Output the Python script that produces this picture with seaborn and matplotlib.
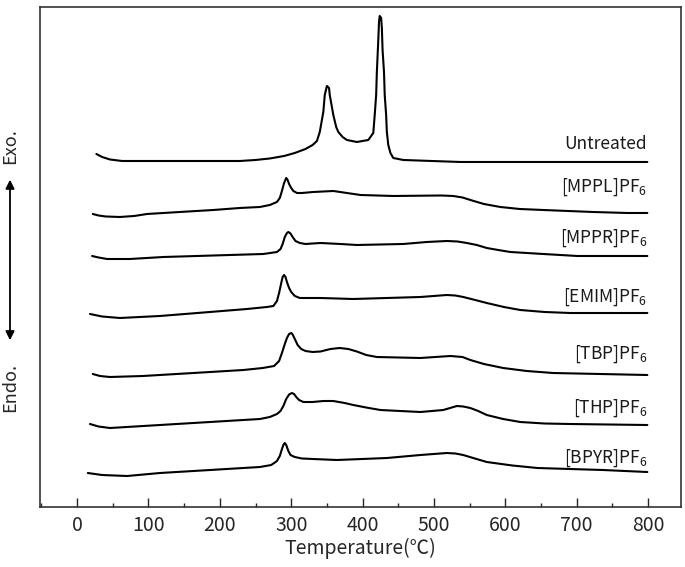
import matplotlib
matplotlib.use('Agg')
import matplotlib.pyplot as plt
import seaborn as sns
import pandas as pd
from matplotlib.ticker import MultipleLocator

# DSC curves (temperature in degC, stacked signal in arbitrary units)
untreated_t = [27, 35, 46, 63, 228, 250, 270, 290, 305, 320, 330, 336, 340, 345, 347, 350, 353, 354, 359,
               363, 366, 372, 378, 392, 408, 415, 417, 419, 420, 422, 423, 424, 426, 427, 428, 430, 431,
               433, 434, 436, 439, 443, 457, 537, 799]
untreated_y = [353, 350, 347.5, 346, 346, 347, 348.5, 351, 354, 358, 362, 366, 375, 395, 412, 421, 419, 412,
               392, 380, 375, 370, 367, 365, 367, 374, 392, 412, 435, 467, 485, 491, 489, 479, 457, 435,
               412, 392, 375, 362, 354, 349, 347, 345, 345]

mppl_t = [22, 30, 40, 60, 80, 98, 144, 191, 228, 256, 270, 280, 284, 287, 290, 293, 295, 297, 300, 303,
          308, 315, 331, 359, 378, 397, 443, 510, 527, 540, 551, 570, 593, 620, 653, 723, 771, 799]
mppl_y = [293, 291.5, 290.5, 290, 291, 293, 295, 297, 299, 300, 302, 305, 309, 316, 324, 329, 327, 323,
          319, 316, 314, 314, 315, 316, 314, 312, 311, 311.5, 311, 309.5, 307, 303, 300, 298, 297, 295,
          294, 294]

mppr_t = [21, 30, 42, 74, 121, 168, 214, 261, 280, 285, 288, 291, 294, 296, 299, 302, 306, 312, 320,
          341, 369, 392, 457, 490, 518, 533, 546, 560, 574, 590, 607, 630, 653, 701, 799]
mppr_y = [251, 249.5, 248, 248, 250, 251, 252, 253, 255, 258, 263, 270, 274, 275, 273.5, 270, 266, 264,
          263, 264, 263, 262, 263, 265, 266, 265.5, 264, 262, 259, 257, 255, 254, 253, 251, 251]

emim_t = [18, 35, 60, 116, 186, 238, 266, 275, 280, 283, 286, 288, 290, 292, 294, 297, 300, 305, 312,
          341, 387, 434, 481, 518, 530, 541, 555, 574, 598, 621, 655, 691, 799]
emim_y = [193, 190.5, 189, 191, 195, 198, 200, 201, 206, 214, 224, 230, 232, 230, 225, 219, 215, 211, 209,
          209, 208, 209, 210, 212, 211.5, 210, 207.5, 204, 200, 197, 195, 194, 194]

tbp_t = [22, 32, 46, 92, 163, 233, 260, 276, 283, 287, 291, 294, 297, 300, 302, 305, 309, 314, 320,
         330, 341, 355, 368, 380, 392, 405, 420, 481, 523, 540, 551, 570, 597, 630, 667, 799]
tbp_y = [133, 131, 130, 131, 134, 137, 139, 141, 146, 154, 163, 169, 173, 174, 172.5, 168, 162, 158, 156,
         155, 155.5, 158, 159, 158, 155.5, 152, 150, 149, 151, 150, 147, 143, 139, 136, 134, 132]

thp_t = [18, 30, 46, 116, 186, 256, 270, 280, 285, 289, 293, 297, 301, 304, 307, 311, 317, 330, 345,
         359, 375, 387, 405, 425, 481, 513, 525, 532, 541, 551, 562, 574, 597, 621, 655, 691, 799]
thp_y = [83, 80.5, 79, 82, 85, 88, 90, 93, 96, 101, 108, 112.5, 114, 113, 110, 107, 105, 105, 106,
         106, 104, 102, 99.5, 97, 95, 97, 99.5, 101, 100.5, 99, 96, 92, 88, 85, 83.5, 83, 82]

bpyr_t = [15, 35, 70, 116, 186, 256, 272, 280, 284, 287, 289, 291, 293, 296, 299, 305, 315, 331, 364,
          434, 481, 518, 530, 541, 555, 574, 610, 645, 737, 799]
bpyr_y = [34, 32, 31, 34, 37, 40, 42, 46, 51, 58, 62, 64, 62, 56, 52, 50, 48.5, 48, 47,
          49, 52, 54, 53.5, 52, 49, 45, 41.5, 39, 37, 35]

samples = ['Untreated', r'[MPPL]PF$_{\mathrm{6}}$', r'[MPPR]PF$_{\mathrm{6}}$', r'[EMIM]PF$_{\mathrm{6}}$',
           r'[TBP]PF$_{\mathrm{6}}$', r'[THP]PF$_{\mathrm{6}}$', r'[BPYR]PF$_{\mathrm{6}}$']
curves = [(untreated_t, untreated_y), (mppl_t, mppl_y), (mppr_t, mppr_y), (emim_t, emim_y),
          (tbp_t, tbp_y), (thp_t, thp_y), (bpyr_t, bpyr_y)]
label_y = [358, 315, 264, 205, 148, 94, 44]

rows = []
for name, (t, y) in zip(samples, curves):
    for a, b in zip(t, y):
        rows.append({'temp': a, 'signal': b, 'sample': name})
df = pd.DataFrame(rows)

sns.set_style('ticks')
plt.rcParams['font.family'] = ['Noto Sans CJK JP', 'DejaVu Sans']
plt.rcParams['mathtext.fontset'] = 'custom'
plt.rcParams['mathtext.rm'] = 'Noto Sans CJK JP'

fig = plt.figure(figsize=(6.85, 5.67), dpi=100)
ax = fig.add_axes([0.0584, 0.1058, 0.9356, 0.8819])

sns.lineplot(data=df, x='temp', y='signal', units='sample', estimator=None, sort=False,
             color='black', linewidth=1.5, ax=ax, solid_joinstyle='round', solid_capstyle='round')

for name, ly in zip(samples, label_y):
    ax.text(799, ly, name, ha='right', va='baseline', fontsize=12.5, color='#1a1a1a')

ax.set_xlim(-52, 846)
ax.set_ylim(0, 500)
ax.set_yticks([])
ax.set_ylabel('')
ax.xaxis.set_major_locator(MultipleLocator(100))
ax.xaxis.set_minor_locator(MultipleLocator(50))
ax.tick_params(axis='x', which='major', direction='in', length=6.5, width=1, labelsize=14, pad=6)
ax.tick_params(axis='x', which='minor', direction='in', length=3, width=1)
ax.set_xlabel('Temperature(℃)', fontsize=14, labelpad=1)
for s in ax.spines.values():
    s.set_color('#333333')
    s.set_linewidth(1.2)

fig.text(0.0146, 0.742, 'Exo.', rotation=90, ha='center', va='center', fontsize=13)
fig.text(0.0146, 0.316, 'Endo.', rotation=90, ha='center', va='center', fontsize=13)
ax.annotate('', xy=(0.0146, 0.688), xytext=(0.0146, 0.395), xycoords='figure fraction',
            textcoords='figure fraction',
            arrowprops=dict(arrowstyle='<|-|>', color='black', lw=1.3, mutation_scale=13))

fig.savefig('out.png', dpi=100)
